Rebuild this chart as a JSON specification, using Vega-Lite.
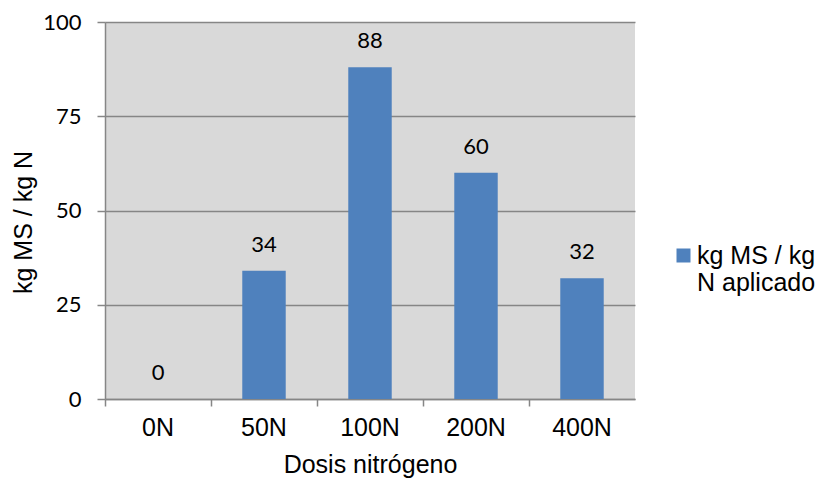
{
  "$schema": "https://vega.github.io/schema/vega-lite/v6.json",
  "autosize": {"type": "none"},
  "width": 530,
  "height": 377,
  "padding": {"left": 105, "top": 22, "right": 193, "bottom": 86},
  "background": "white",
  "config": {
    "view": {"fill": "#d9d9d9", "stroke": null},
    "font": "Liberation Sans"
  },
  "data": {
    "values": [
      {"dosis": "0N", "valor": 0, "serie": "kg MS / kg N aplicado"},
      {"dosis": "50N", "valor": 34, "serie": "kg MS / kg N aplicado"},
      {"dosis": "100N", "valor": 88, "serie": "kg MS / kg N aplicado"},
      {"dosis": "200N", "valor": 60, "serie": "kg MS / kg N aplicado"},
      {"dosis": "400N", "valor": 32, "serie": "kg MS / kg N aplicado"}
    ]
  },
  "encoding": {
    "x": {
      "field": "dosis",
      "type": "nominal",
      "sort": null,
      "scale": {"paddingInner": 0, "paddingOuter": 0},
      "axis": {
        "title": "Dosis nitrógeno",
        "titleFont": "Liberation Sans",
        "titleFontSize": 25,
        "titleFontWeight": "normal",
        "titleColor": "#000000",
        "titlePadding": 12,
        "labelAngle": 0,
        "labelFont": "Liberation Sans",
        "labelFontSize": 25,
        "labelColor": "#000000",
        "labelPadding": 9,
        "bandPosition": 0,
        "tickSize": 7,
        "tickWidth": 1.5,
        "tickColor": "#868686",
        "domainColor": "#868686",
        "domainWidth": 1.5,
        "grid": false
      }
    },
    "y": {
      "field": "valor",
      "type": "quantitative",
      "scale": {"domain": [0, 100], "nice": false},
      "axis": {
        "title": "kg MS / kg N",
        "titleFont": "Liberation Sans",
        "titleFontSize": 25,
        "titleFontWeight": "normal",
        "titleColor": "#000000",
        "titlePadding": 6,
        "titleY": 200,
        "values": [0, 25, 50, 75, 100],
        "labelFont": "Lato",
        "labelFontSize": 22,
        "labelColor": "#000000",
        "labelPadding": 16,
        "tickSize": 8,
        "tickWidth": 1.5,
        "tickColor": "#868686",
        "domainColor": "#868686",
        "domainWidth": 1.5,
        "grid": true,
        "gridColor": "#868686",
        "gridWidth": 1.5
      }
    }
  },
  "layer": [
    {
      "mark": {"type": "bar", "width": {"band": 0.41}, "color": "#4f81bd"},
      "encoding": {
        "color": {
          "field": "serie",
          "type": "nominal",
          "scale": {"range": ["#4f81bd"]},
          "legend": {
            "title": null,
            "orient": "none",
            "legendX": 566,
            "legendY": 221,
            "symbolType": "square",
            "symbolSize": 196,
            "symbolStrokeWidth": 0,
            "labelFont": "Liberation Sans",
            "labelFontSize": 25,
            "labelColor": "#000000",
            "labelOffset": 1,
            "labelLimit": 250,
            "labelExpr": "['kg MS / kg', 'N aplicado']"
          }
        }
      }
    },
    {
      "mark": {
        "type": "text",
        "baseline": "alphabetic",
        "dy": -19,
        "fontSize": 22,
        "font": "Lato",
        "color": "#000000"
      },
      "encoding": {"text": {"field": "valor", "type": "quantitative"}}
    }
  ]
}
